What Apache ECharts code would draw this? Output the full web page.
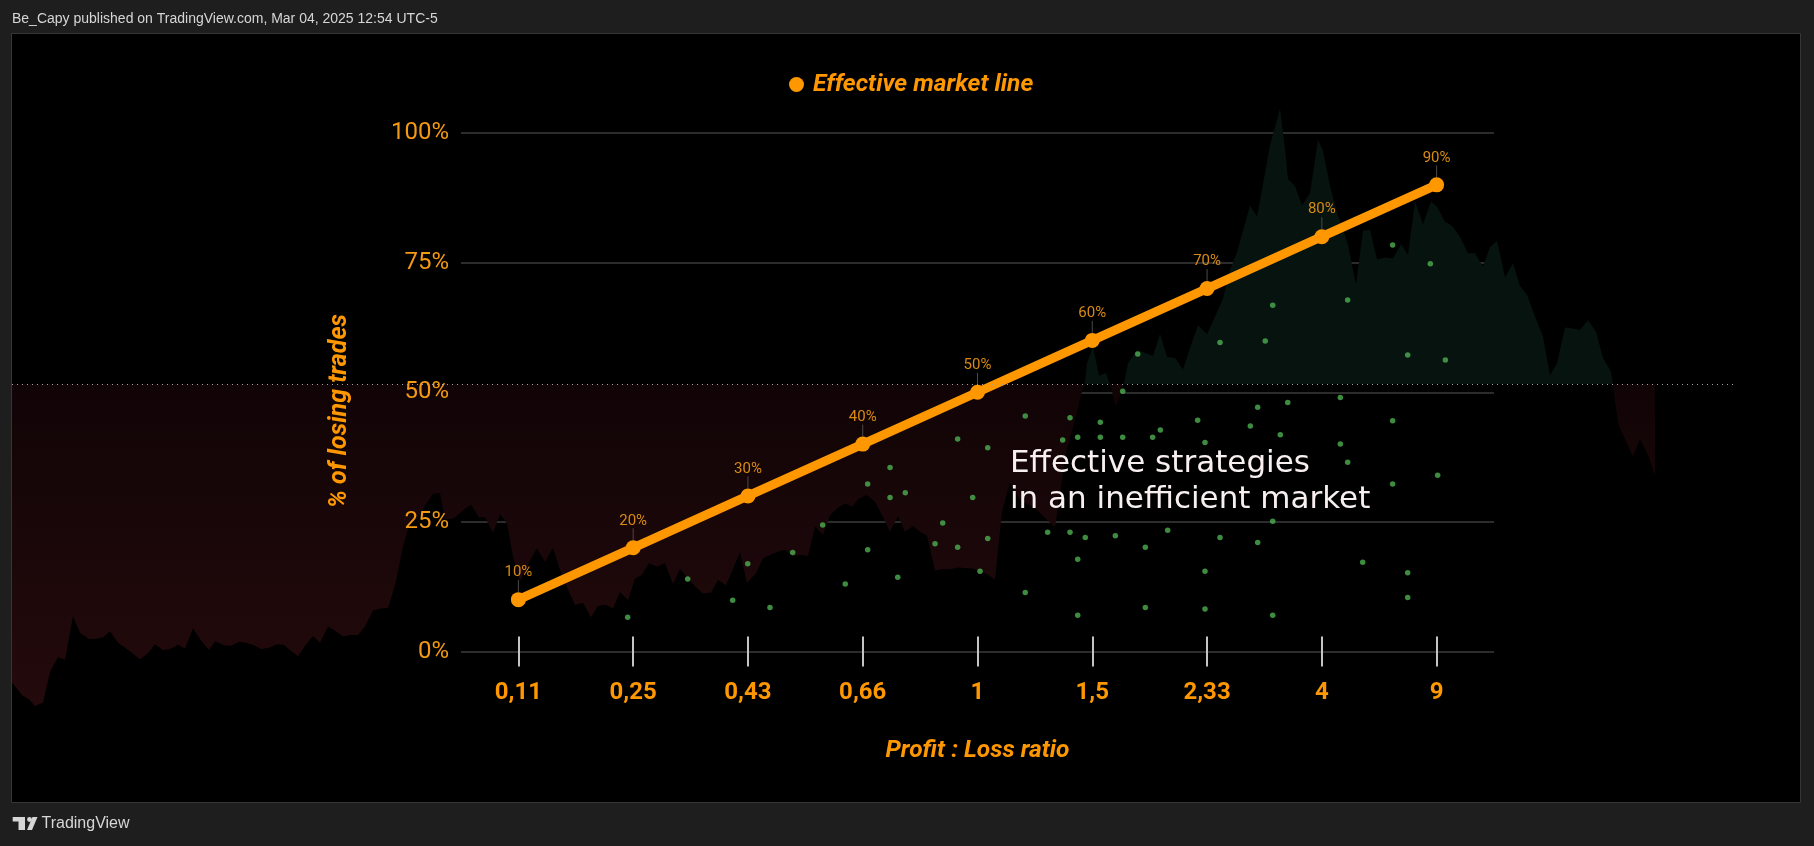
<!DOCTYPE html>
<html>
<head>
<meta charset="utf-8">
<title>Effective market line</title>
<script src="https://cdn.jsdelivr.net/npm/echarts@6.0.0/dist/echarts.min.js"></script>
<style>
	html, body { margin: 0; padding: 0; background: #1e1e1e; }
	#chart { width: 1814px; height: 846px; }
</style>
</head>
<body>
<div id="chart"></div>
<script>
// x axis categories (profit : loss ratio) and the effective market line
var ratios = ['0,11', '0,25', '0,43', '0,66', '1', '1,5', '2,33', '4', '9'];
var losingPct = [10, 20, 30, 40, 50, 60, 70, 80, 90];
var lineName = 'Effective market line';

// green strategy dots: x in category units (0..9), y in %
var dotX = [1.452, 1.975, 2.367, 2.498, 2.692, 2.890, 3.151, 3.348, 3.543, 3.543,
	3.738, 3.738, 3.805, 3.871, 4.130, 4.197, 4.327, 4.327, 4.458, 4.522,
	4.589, 4.589, 4.916, 4.916, 5.111, 5.242, 5.306, 5.306, 5.373, 5.373,
	5.373, 5.439, 5.570, 5.570, 5.701, 5.765, 5.765, 5.896, 5.962, 5.962,
	6.026, 6.093, 6.157, 6.418, 6.482, 6.482, 6.482, 6.613, 6.613, 6.877,
	6.941, 6.941, 7.007, 7.072, 7.072, 7.072, 7.138, 7.203, 7.661, 7.661,
	7.725, 7.725, 7.856, 8.117, 8.117, 8.117, 8.248, 8.248, 8.248, 8.445,
	8.509, 8.576];
var dotY = [6.6, 14.0, 9.9, 16.9, 8.5, 19.1, 24.4, 13.0, 32.3, 19.6,
	35.5, 29.7, 14.3, 30.6, 20.8, 24.8, 41.0, 20.1, 29.7, 15.5,
	39.3, 21.8, 45.4, 11.4, 23.0, 40.8, 45.1, 23.0, 41.3, 17.8,
	7.0, 22.0, 44.2, 41.3, 22.3, 50.2, 41.3, 57.4, 20.1, 8.5,
	41.3, 42.7, 23.4, 44.6, 40.3, 15.5, 8.2, 59.6, 22.0, 43.5,
	47.1, 21.0, 59.9, 66.8, 25.1, 7.0, 41.8, 48.0, 49.0, 40.0,
	67.8, 36.5, 17.2, 78.4, 44.5, 32.3, 57.2, 15.2, 10.4, 74.8,
	34.0, 56.2];

// background price (baseline style), x = bar column, y on the same % scale
var bgBaseline = 51.6;
var bgX = [12, 22, 29, 35, 43, 50, 58, 65, 73, 80, 89, 95, 103, 110, 118, 129, 140, 148, 155, 163,
	170, 178, 185, 193, 200, 209, 215, 224, 231, 239, 246, 254, 261, 269, 277, 284, 290, 298, 305, 313,
	320, 328, 335, 343, 350, 358, 365, 373, 380, 388, 395, 403, 410, 418, 425, 433, 440, 445, 454, 464,
	471, 479, 485, 493, 500, 507, 513, 520, 530, 537, 545, 553, 560, 567, 575, 583, 591, 598, 606, 613,
	620, 628, 635, 642, 649, 657, 665, 673, 680, 688, 696, 703, 711, 718, 726, 733, 740, 747, 756, 763,
	770, 777, 785, 793, 800, 808, 815, 823, 830, 837, 845, 852, 859, 867, 875, 883, 890, 898, 905, 913,
	920, 927, 935, 943, 951, 958, 966, 973, 981, 988, 995, 1002, 1010, 1020, 1035, 1045, 1055, 1066, 1075, 1080,
	1085, 1087, 1093, 1099, 1106, 1110, 1116, 1123, 1128, 1137, 1145, 1153, 1160, 1167, 1175, 1183, 1191, 1198, 1207, 1215,
	1223, 1230, 1237, 1243, 1250, 1257, 1263, 1270, 1280, 1285, 1288, 1295, 1302, 1310, 1318, 1323, 1330, 1337, 1343, 1348,
	1356, 1363, 1370, 1377, 1385, 1393, 1401, 1408, 1415, 1423, 1431, 1437, 1445, 1452, 1460, 1468, 1475, 1483, 1490, 1497,
	1505, 1513, 1520, 1527, 1535, 1543, 1550, 1557, 1565, 1573, 1580, 1588, 1596, 1603, 1611, 1613, 1618, 1626, 1633, 1640,
	1648, 1655];
var bgY = [-6.0, -8.4, -9.2, -10.5, -9.9, -3.9, -1.1, -1.6, 6.8, 3.6, 2.4, 2.4, 2.7, 3.9, 1.7, 0.2, -1.5, -0.3, 1.4, 0.3,
	0.5, 1.3, 0.6, 4.5, 2.4, 0.3, 2.0, 1.2, 1.1, 1.9, 1.7, 1.2, 0.5, 0.7, 1.4, 1.3, 0.3, -0.9, 1.1, 3.0,
	1.7, 4.8, 4.0, 2.9, 3.2, 3.2, 4.8, 7.9, 8.3, 8.4, 12.8, 20.2, 25.0, 25.7, 28.1, 30.4, 30.6, 25.4, 25.7, 27.4,
	28.3, 25.9, 25.9, 22.9, 26.5, 24.7, 18.3, 13.5, 17.5, 19.9, 17.3, 20.0, 15.7, 12.4, 9.0, 9.4, 6.6, 8.8, 9.0, 8.3,
	11.5, 9.9, 14.1, 14.8, 17.0, 16.4, 17.0, 13.0, 15.9, 14.1, 12.4, 11.2, 11.4, 13.8, 12.8, 15.9, 19.2, 13.2, 15.1, 18.0,
	18.6, 19.2, 19.6, 18.4, 18.6, 18.4, 24.1, 22.5, 26.3, 27.6, 28.6, 27.9, 29.5, 30.2, 28.9, 26.0, 23.1, 26.1, 23.1, 24.2,
	23.1, 22.3, 15.6, 15.9, 15.9, 16.2, 16.1, 16.0, 15.4, 14.8, 13.9, 27.0, 32.6, 29.2, 27.7, 25.8, 24.0, 38.4, 44.6, 48.8,
	52.0, 55.6, 58.8, 53.2, 53.7, 51.5, 47.4, 50.8, 55.6, 58.1, 57.6, 57.0, 61.3, 56.8, 56.6, 54.4, 59.1, 62.9, 61.2, 64.6,
	68.1, 73.6, 77.0, 81.2, 86.0, 83.9, 90.1, 97.7, 104.7, 97.0, 91.1, 89.8, 86.0, 88.4, 98.7, 96.6, 89.8, 84.6, 81.5, 78.4,
	70.8, 81.2, 81.3, 75.6, 76.0, 75.8, 78.6, 76.5, 86.8, 82.4, 86.8, 85.8, 82.9, 82.1, 80.0, 76.8, 76.8, 74.2, 78.0, 79.2,
	72.2, 74.9, 70.5, 68.8, 64.6, 60.7, 53.3, 55.6, 62.5, 62.3, 62.0, 63.9, 61.7, 56.6, 54.0, 51.5, 44.0, 40.5, 37.6, 40.9,
	37.9, 34.0];

var ORANGE = '#ff9800';
var ORANGE_TXT = '#f39a12';

var bgData = bgX.map(function (x, i) { return [x, bgY[i]]; });
var dotData = dotX.map(function (x, i) { return [x, dotY[i]]; });

var chart = echarts.init(document.getElementById('chart'), null, {renderer: 'canvas'});

chart.setOption({
	backgroundColor: '#1e1e1e',
	animation: false,
	legend: {
		data: [lineName],
		left: 784,
		top: 67,
		icon: 'circle',
		itemWidth: 15,
		itemHeight: 15,
		textStyle: {
			color: ORANGE,
			fontFamily: 'Roboto',
			fontSize: 24.5,
			fontWeight: 'bold',
			fontStyle: 'italic',
			padding: [0, 0, 0, 4]
		}
	},
	grid: [
		{left: 12, right: 81, top: 133, bottom: 194.5},
		{left: 461, right: 320, top: 133, bottom: 194.5}
	],
	xAxis: [
		{gridIndex: 0, type: 'value', min: 12, max: 1733, show: false},
		{
			gridIndex: 1,
			type: 'category',
			position: 'bottom',
			data: ratios,
			axisLine: {show: false},
			axisTick: {show: true, alignWithLabel: true, length: 15, lineStyle: {color: '#c4c4c4', width: 2}},
			axisLabel: {
				margin: 29,
				color: ORANGE,
				fontFamily: 'Roboto',
				fontSize: 24,
				fontWeight: 'bold'
			},
			splitLine: {show: false},
			name: 'Profit : Loss ratio',
			nameLocation: 'middle',
			nameGap: 87,
			nameTextStyle: {
				color: ORANGE,
				fontFamily: 'Roboto',
				fontSize: 24.5,
				fontWeight: 'bold',
				fontStyle: 'italic'
			}
		},
		{
			gridIndex: 1,
			type: 'category',
			position: 'bottom',
			data: ratios,
			axisLine: {show: false},
			axisTick: {show: true, inside: true, alignWithLabel: true, length: 15, lineStyle: {color: '#c4c4c4', width: 2}},
			axisLabel: {show: false},
			splitLine: {show: false}
		},
		{gridIndex: 1, type: 'value', position: 'bottom', min: 0, max: 9, show: false}
	],
	yAxis: [
		{gridIndex: 0, type: 'value', min: 0, max: 100, show: false},
		{
			gridIndex: 1,
			type: 'value',
			min: 0,
			max: 100,
			interval: 25,
			axisLine: {show: false},
			axisTick: {show: false},
			axisLabel: {
				margin: 12,
				color: ORANGE_TXT,
				fontFamily: 'Roboto',
				fontSize: 24,
				formatter: '{value}%'
			},
			splitLine: {lineStyle: {color: '#2c2c2c', width: 2}}
		}
	],
	series: [
		{
			name: 'price',
			type: 'line',
			xAxisIndex: 0,
			yAxisIndex: 0,
			data: bgData,
			clip: false,
			symbol: 'none',
			z: 0,
			lineStyle: {width: 0, opacity: 0},
			areaStyle: {
				origin: bgBaseline,
				opacity: 1,
				color: new echarts.graphic.LinearGradient(0, 107, 0, 710, [
					{offset: 0, color: '#06130f'},
					{offset: 0.459, color: '#06130f'},
					{offset: 0.46, color: '#110406'},
					{offset: 1, color: '#240a0c'}
				], true)
			},
			markLine: {
				silent: true,
				symbol: 'none',
				label: {show: false},
				lineStyle: {color: '#a0a0a0', width: 1, type: [1, 4]},
				data: [{yAxis: bgBaseline}]
			}
		},
		{
			name: 'strategies',
			type: 'scatter',
			xAxisIndex: 3,
			yAxisIndex: 1,
			data: dotData,
			symbolSize: 5.5,
			z: 3,
			itemStyle: {color: '#4caf50'}
		},
		{
			name: lineName,
			type: 'line',
			xAxisIndex: 1,
			yAxisIndex: 1,
			data: losingPct,
			z: 4,
			symbol: 'circle',
			symbolSize: 15,
			lineStyle: {color: ORANGE, width: 9},
			itemStyle: {color: ORANGE},
			label: {
				show: true,
				position: 'top',
				distance: 4,
				formatter: '{c}%',
				color: '#d88b12',
				fontFamily: 'Roboto',
				fontSize: 15
			},
			labelLayout: {dy: -8},
			labelLine: {show: true, lineStyle: {color: '#4a4a4a', width: 1}}
		}
	],
	graphic: [
		{
			type: 'rect',
			z: -10,
			shape: {x: 11.5, y: 33.5, width: 1789, height: 769},
			style: {fill: '#000', stroke: '#363636', lineWidth: 1}
		},
		{
			type: 'text',
			x: 12,
			y: 19,
			style: {
				text: 'Be_Capy published on TradingView.com, Mar 04, 2025 12:54 UTC-5',
				fill: '#d6d6d6',
				font: '14px "Liberation Sans"',
				verticalAlign: 'middle'
			}
		},
		{
			type: 'text',
			x: 340,
			y: 411,
			z: 10,
			rotation: Math.PI / 2,
			style: {
				text: '% of losing trades',
				fill: ORANGE,
				font: 'italic bold 25px Roboto',
				align: 'center',
				verticalAlign: 'middle'
			}
		},
		{
			type: 'text',
			x: 1010,
			y: 446,
			z: 10,
			style: {
				text: 'Effective strategies\nin an inefficient market',
				fill: '#f8f0f0',
				font: '31px "DejaVu Sans"',
				lineHeight: 36,
				verticalAlign: 'top'
			}
		},
		{
			type: 'group',
			children: [
				{type: 'rect', shape: {x: 12.7, y: 817, width: 12, height: 4.5}, style: {fill: '#d6d6d6'}},
				{type: 'rect', shape: {x: 18.5, y: 817, width: 6.5, height: 13}, style: {fill: '#d6d6d6'}},
				{type: 'circle', shape: {cx: 29.5, cy: 819.5, r: 2.4}, style: {fill: '#d6d6d6'}},
				{type: 'polygon', shape: {points: [[32.5, 817], [37.5, 817], [32, 830], [27, 830]]}, style: {fill: '#d6d6d6'}}
			]
		},
		{
			type: 'text',
			x: 41.5,
			y: 824,
			style: {
				text: 'TradingView',
				fill: '#d6d6d6',
				font: '16px "Liberation Sans"',
				verticalAlign: 'middle'
			}
		}
	]
});
</script>
</body>
</html>
